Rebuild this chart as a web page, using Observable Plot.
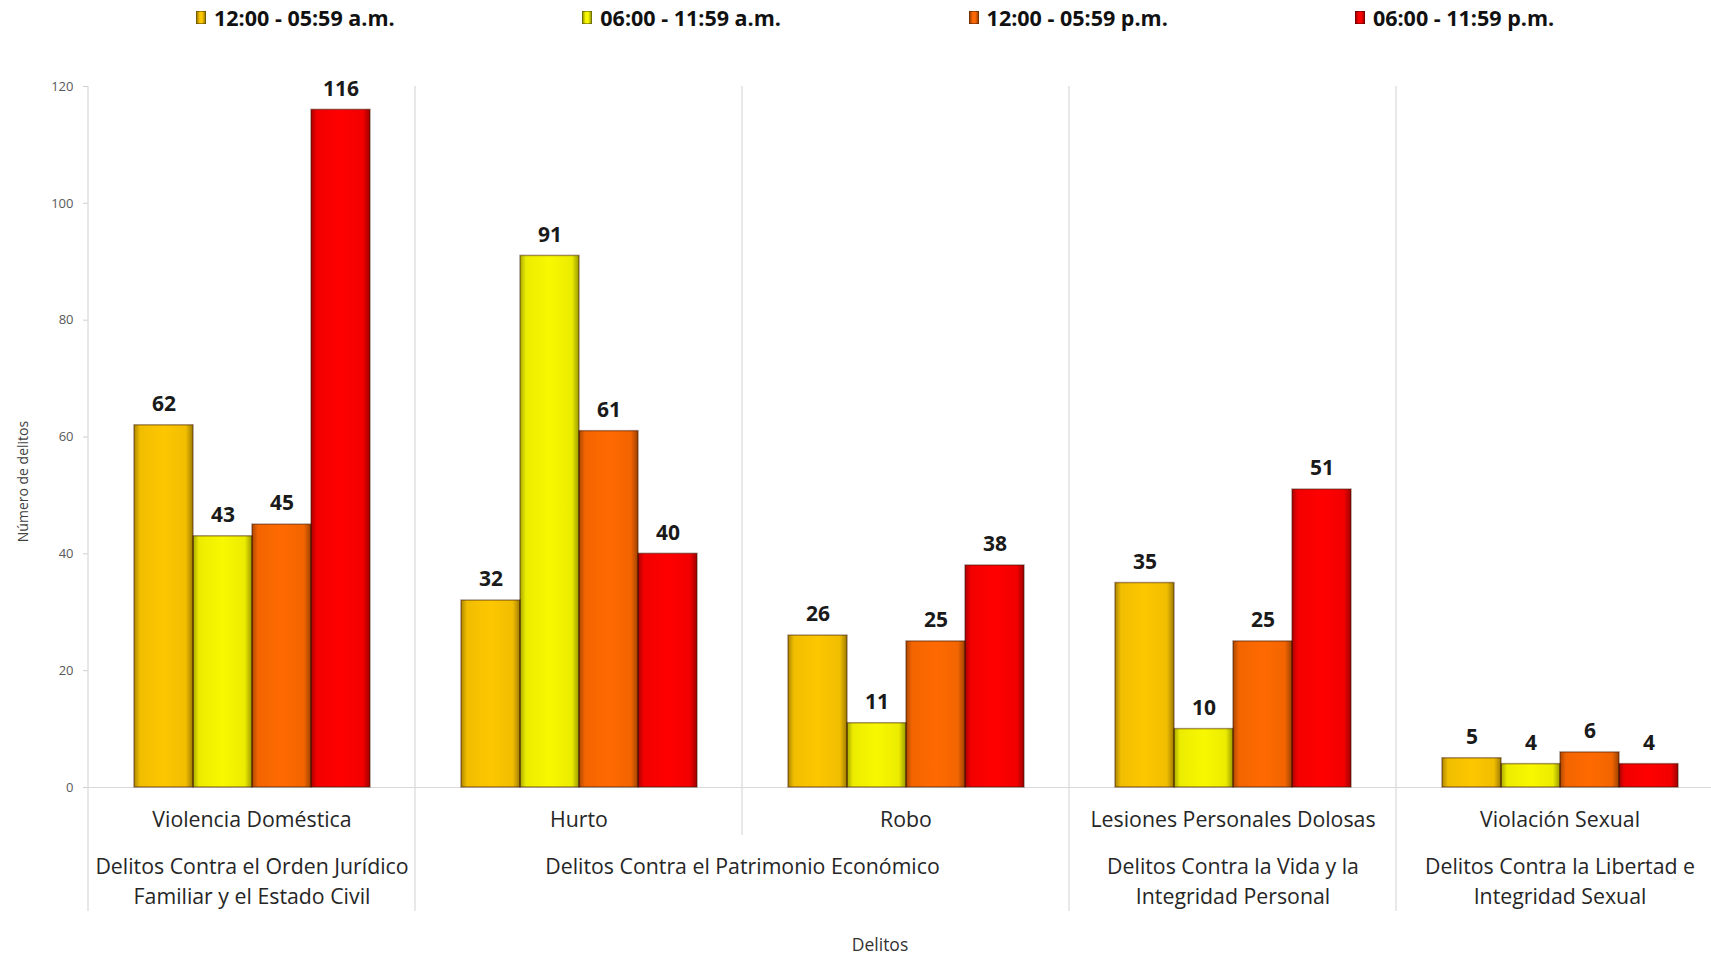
<!DOCTYPE html>
<html>
<head>
<meta charset="utf-8">
<script src="https://cdn.jsdelivr.net/npm/d3@7"></script>
<script src="https://cdn.jsdelivr.net/npm/@observablehq/plot@0.6"></script>
<style>
  html, body { margin: 0; padding: 0; background: #fff; overflow: hidden; }
  body { width: 1711px; height: 954px; font-family: "Open Sans", Lato, sans-serif; }
  #legend { position: relative; width: 1711px; height: 40px; }
  .item { position: absolute; top: 3px; display: flex; align-items: center; font-weight: 700; font-size: 21.5px; color: #111; white-space: nowrap; }
  .sw { width: 10px; height: 13px; margin-right: 8px; box-sizing: border-box; border: 1px solid rgba(0,0,0,0.35); }
  #chart svg { display: block; }
</style>
</head>
<body>
<div id="legend"></div>
<div id="chart"></div>
<script>
// ---- data ----
const crimes = ["Violencia Doméstica", "Hurto", "Robo", "Lesiones Personales Dolosas", "Violación Sexual"];
const groups = [
  "Delitos Contra el Orden Jurídico\nFamiliar y el Estado Civil",
  "Delitos Contra el Patrimonio Económico",
  "Delitos Contra la Vida y la\nIntegridad Personal",
  "Delitos Contra la Libertad e\nIntegridad Sexual"
];
const crimeGroup = [0, 1, 1, 2, 3];
const slots = ["12:00 - 05:59 a.m.", "06:00 - 11:59 a.m.", "12:00 - 05:59 p.m.", "06:00 - 11:59 p.m."];
const madrugada = [62, 32, 26, 35, 5];
const manana    = [43, 91, 11, 10, 4];
const tarde     = [45, 61, 25, 25, 6];
const noche     = [116, 40, 38, 51, 4];
const yTicks = [0, 20, 40, 60, 80, 100, 120];
const yTitle = "Número de delitos";
const xTitle = "Delitos";

// ---- styles ----
const fills = ["#FDC700", "#F8F800", "#FF6A00", "#FF0000"];
const FONT = "'Open Sans', Lato, sans-serif";

const series = [madrugada, manana, tarde, noche];
const data = slots.flatMap((s, j) => crimes.map((c, i) => ({crime: c, slot: s, value: series[j][i]})));

// ---- legend ----
const legend = d3.select("#legend");
slots.forEach((s, j) => {
  const it = legend.append("div").attr("class", "item").style("left", (196 + j * 386.3) + "px");
  it.append("div").attr("class", "sw")
    .style("background", `linear-gradient(90deg, rgba(0,0,0,0.35), ${fills[j]} 35%, ${fills[j]} 65%, rgba(0,0,0,0.35))`)
    .style("background-color", fills[j]);
  it.append("span").text(s);
});

// ---- chart ----
const W = 1723, H = 914, ML = 88, MR = 0, MT = 46, MB = 167;
const fxProbe = Plot.scale({fx: {domain: crimes, range: [ML, W - MR], padding: 0}});
const step = fxProbe.step;

const groupMarks = groups.map((g, gi) => {
  const members = crimes.filter((c, i) => crimeGroup[i] === gi);
  return Plot.text([g], {
    fx: () => members[0],
    text: d => d,
    frameAnchor: "bottom",
    lineAnchor: "top",
    dy: 65,
    dx: (members.length - 1) * step / 2,
    fontSize: 21.3,
    lineHeight: 1.41,
    fill: "#262626"
  });
});

const chart = Plot.plot({
  width: W, height: H,
  marginTop: MT, marginBottom: MB, marginLeft: ML, marginRight: MR,
  style: {fontFamily: FONT, background: "transparent", overflow: "visible", maxWidth: "none"},
  fx: {domain: crimes, padding: 0, axis: null},
  x: {domain: slots, paddingInner: 0, paddingOuter: 0.74, axis: null},
  y: {domain: [0, 120], axis: null},
  color: {domain: slots, range: fills},
  marks: [
    Plot.ruleY([0], {stroke: "#d9d9d9", strokeWidth: 1.2}),
    Plot.axisY({ticks: yTicks, tickSize: 5, tickPadding: 10, fontSize: 13, color: "#595959", stroke: "#d0d0d0", label: null}),
    Plot.barY(data, {fx: "crime", x: "slot", y: "value", fill: "slot"}),
    Plot.barY(data, {fx: "crime", x: "slot", y: "value", fill: "url(#bevelH)", stroke: "rgba(60,20,0,0.45)", strokeWidth: 1.5}),
    Plot.text(data, {fx: "crime", x: "slot", y: "value", text: d => String(d.value), dy: -21, fontSize: 21, fontWeight: "bold", fill: "#1a1a1a"}),
    Plot.text(crimes, {fx: d => d, text: d => d, frameAnchor: "bottom", lineAnchor: "middle", dy: 33, fontSize: 21.3, fill: "#262626"}),
    ...groupMarks,
    Plot.text([xTitle], {fx: () => crimes[2], text: d => d, frameAnchor: "bottom", lineAnchor: "middle", dy: 158, dx: -26, fontSize: 17.5, fill: "#333"}),
    Plot.text([yTitle], {fx: () => crimes[0], text: d => d, frameAnchor: "left", textAnchor: "middle", lineAnchor: "middle", rotate: -90, dx: -65, dy: 44.5, fontSize: 14, fill: "#404040"})
  ]
});

document.getElementById("chart").appendChild(chart);

// bevel gradient definition
const svg = d3.select(chart);
const defs = svg.insert("defs", ":first-child");
const gH = defs.append("linearGradient").attr("id", "bevelH").attr("x1", 0).attr("x2", 1).attr("y1", 0).attr("y2", 0);
[[0, 0.32], [0.1, 0.05], [0.5, 0], [0.88, 0.05], [1, 0.38]].forEach(([o, a]) =>
  gH.append("stop").attr("offset", o).attr("stop-color", "#000").attr("stop-opacity", a));

// category separators, positioned with the chart's own scales
const fxS = chart.scale("fx"), yS = chart.scale("y");
const topY = yS.apply(120), baseY = yS.apply(0);
const sep = svg.append("g").attr("stroke", "#d9d9d9").attr("stroke-width", 1.2);
crimes.forEach((c, i) => {
  const x = fxS.apply(c);
  const long = i === 0 || crimeGroup[i] !== crimeGroup[i - 1];
  sep.append("line").attr("x1", x).attr("x2", x).attr("y1", topY).attr("y2", baseY + (long ? 124 : 48));
});
</script>
</body>
</html>
